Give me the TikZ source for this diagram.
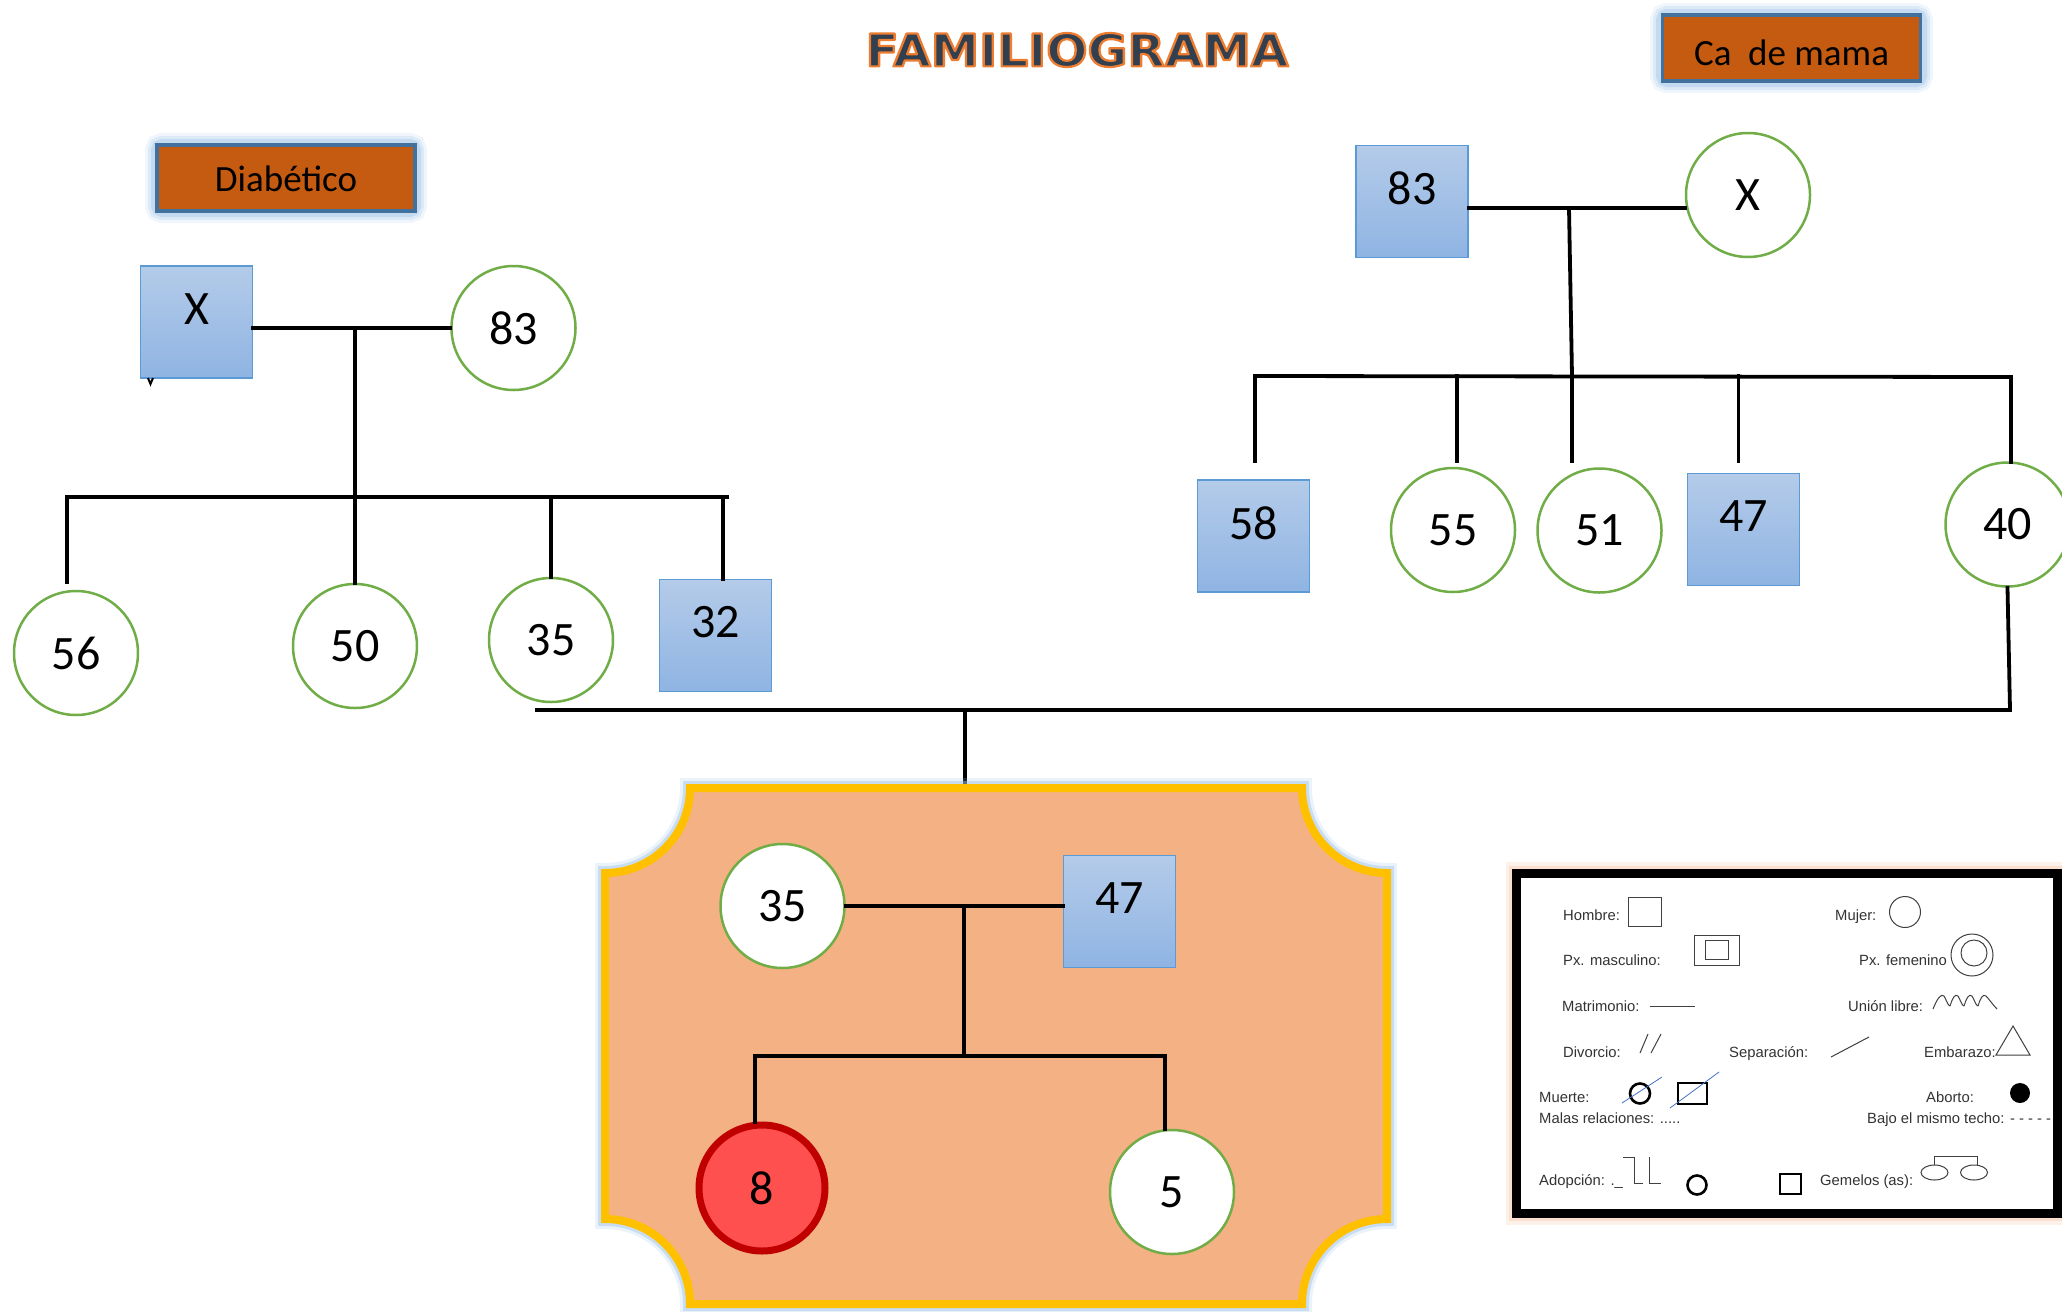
\documentclass[tikz,border=0pt]{standalone}
\usepackage{fontspec}
\setmainfont{Carlito}
\newfontfamily\arialf{Liberation Sans}
\newfontfamily\titlef{DejaVu Sans}
\definecolor{pgreen}{HTML}{70AD47}
\definecolor{sqtop}{HTML}{B4CBE9}
\definecolor{sqbot}{HTML}{8FB4E3}
\definecolor{sqborder}{HTML}{5B9BD5}
\definecolor{tagfill}{HTML}{C55A11}
\definecolor{tagborder}{HTML}{41719C}
\definecolor{glowblue}{HTML}{9DC3E6}
\definecolor{navyT}{HTML}{323F4F}
\definecolor{orangeT}{HTML}{ED7D31}
\definecolor{peach}{HTML}{F4B183}
\definecolor{goldB}{HTML}{FFC000}
\definecolor{redfill}{HTML}{FF5050}
\definecolor{redborder}{HTML}{C00000}
\definecolor{slashblue}{HTML}{4472C4}
\definecolor{glowor}{HTML}{F8CBAD}
\newcommand{\plaquepath}{(690,788) -- (1302,788) arc[start angle=180,end angle=270,radius=85pt] -- (1387,1219) arc[start angle=90,end angle=180,radius=85pt] -- (690,1304) arc[start angle=0,end angle=90,radius=85pt] -- (605,873) arc[start angle=270,end angle=360,radius=85pt] -- cycle}
\newcommand{\outlinedtitle}[1]{{\color{navyT}\special{pdf:literal direct 0.929 0.490 0.192 RG 2.2 w 1 j 2 Tr}#1\special{pdf:literal direct 0 Tr}}}
\begin{document}
\begin{tikzpicture}[x=1pt,y=-1pt,
  fem/.style={circle, draw=pgreen, line width=2.5pt, fill=white, minimum size=124pt, inner sep=0pt, font=\fontsize{48}{50}\selectfont},
  mal/.style={rectangle, draw=sqborder, line width=1.5pt, top color=sqtop, bottom color=sqbot, minimum size=112pt, inner sep=0pt},
  sqlab/.style={font=\fontsize{48}{50}\selectfont, yshift=13pt, inner sep=0pt},
  ln/.style={line width=3.8pt, black, line cap=rect},
  tagbox/.style={rectangle, fill=tagfill, draw=tagborder, line width=3.5pt, minimum width=258pt, minimum height=66pt, inner sep=0pt, font=\fontsize{37}{40}\selectfont, text depth=0pt},
  titletext/.style={font=\titlef\bfseries\fontsize{45}{50}\selectfont, inner sep=0pt},
  lg/.style={font=\arialf\fontsize{14.8}{16}\selectfont, anchor=base west, inner sep=0pt, text=black!80},
  lgs/.style={line width=1pt, black!75},
  lgk/.style={line width=2.6pt, black}
]
\useasboundingbox (0,0) rectangle (2062,1312);
\clip (0,0) rectangle (2062,1312);

% ---------- title ----------
\node[titletext] (title) at (1077,50) {\scalebox{1.08}[1]{\outlinedtitle{FAMILIOGRAMA}}};

% ---------- tags with glow ----------
\foreach \w/\o in {24/0.15,18/0.25,12/0.4}{
  \draw[glowblue, line width=\w pt, opacity=\o, rounded corners=5pt] (157,145) rectangle (415,211);
  \draw[glowblue, line width=\w pt, opacity=\o, rounded corners=5pt] (1662,15) rectangle (1921,81);
}
\node[tagbox, text height=27.4pt] (diab) at (286,178) {Diabético};
\node[tagbox, text height=34pt] (cama) at (1791.5,48) {Ca\ \ de mama};

% ---------- left family ----------
\node[mal, label={[sqlab]center:X}] (sqXL) at (196.5,322) {};
\draw[line width=2pt] (148,378) -- (150.5,384) -- (153,378);
\node[fem] (c83L) at (513.5,328) {83};
\coordinate (mL) at (355,328);
\coordinate (sibL) at (355,497);
\coordinate (sibLa) at (67,497);
\coordinate (sibLb) at (727,497);
\draw[ln] (sqXL.east |- mL) -- (c83L.west);
\draw[ln] (mL) -- (sibL);
\draw[ln] (sibLa) -- (sibLb);
\node[fem] (c56) at (76,653) {56};
\node[fem] (c50) at (355,646) {50};
\node[fem] (c35L) at (551,640) {35};
\node[mal, label={[sqlab]center:32}] (sq32) at (715.5,635.5) {};
\draw[ln] (sibLa) -- (67,582);
\draw[ln] (sibL) -- (c50.north);
\draw[ln] (551,497) -- (c35L.north);
\draw[ln] (723,497) -- (723,579);

% ---------- right family ----------
\node[mal, label={[sqlab]center:83}] (sq83R) at (1412,201.5) {};
\node[fem] (cXR) at (1748,195) {X};
\coordinate (mR) at (1569,208);
\coordinate (sibRa) at (1255,376);
\coordinate (sibRb) at (2011,377);
\draw[ln] (sq83R.east |- mR) -- (cXR.west |- mR);
\draw[ln] (mR) -- (1572,376);
\draw[ln] (sibRa) -- (sibRb);
\node[mal, label={[sqlab]center:58}] (sq58) at (1253.5,536) {};
\node[fem] (c55) at (1453,530) {55};
\node[fem] (c51) at (1599.5,530.5) {51};
\node[mal, label={[sqlab]center:47}] (sq47R) at (1743.5,529.5) {};
\node[fem] (c40) at (2007.5,524.5) {40};
\draw[ln] (sibRa) -- (1255,461);
\draw[ln] (1457,376) -- (1457,461);
\draw[ln] (1572,376) -- (1572,461);
\draw[ln] (1738.5,376) -- (1738.5,461);
\draw[ln] (sibRb) -- (2011,462);

% ---------- union line ----------
\coordinate (jR) at (2010,710);
\coordinate (jL) at (537,710);
\coordinate (jM) at (965,710);
\draw[ln] (c40.south) -- (jR);
\draw[ln] (jL) -- (jR);
\draw[ln] (jM) -- (965,788);

% ---------- plaque ----------
\draw[glowblue, line width=20pt, opacity=0.2] \plaquepath;
\draw[glowblue, line width=14pt, opacity=0.45] \plaquepath;
\draw[fill=peach, draw=goldB, line width=8pt] \plaquepath;

\node[fem] (c35B) at (782.5,906) {35};
\node[mal, label={[sqlab]center:47}] (sq47B) at (1119.5,911.5) {};
\coordinate (mB) at (964,906);
\coordinate (sibBa) at (755,1056);
\coordinate (sibBb) at (1165,1056);
\draw[ln] (c35B.east) -- (sq47B.west |- c35B.east);
\draw[ln] (mB) -- (964,1056);
\draw[ln] (sibBa) -- (sibBb);
\node[circle, fill=redfill, draw=redborder, line width=7pt, minimum size=126pt, inner sep=0pt, font=\fontsize{48}{50}\selectfont] (c8) at (762,1188) {8};
\node[fem] (c5) at (1172,1192) {5};
\draw[ln] (sibBa) -- (755,1122);
\draw[ln] (sibBb) -- (1165,1129);

% ---------- legend ----------
\draw[glowor, line width=22pt, opacity=0.25] (1516.5,873) rectangle (2057,1213.5);
\draw[glowor, line width=15pt, opacity=0.45] (1516.5,873) rectangle (2057,1213.5);
\draw[line width=9pt, fill=white] (1516.5,873) rectangle (2057,1213.5);

\node[lg] (lh) at (1563,920) {Hombre:};
\draw[lgs] (1628,897) rectangle (1661,926);
\node[lg] (lm) at (1835,920) {Mujer:};
\draw[lgs] (1905,912) circle[radius=15.5pt];

\node[lg] (lpm) at (1563,965) {Px. masculino:};
\draw[lgs] (1694,935) rectangle (1739,965);
\draw[lgs] (1705,940) rectangle (1728,959);
\node[lg] (lpf) at (1859,965) {Px. femenino};
\draw[lgs] (1972,955) circle[radius=21pt];
\draw[lgs] (1974,953) circle[radius=13pt];

\node[lg] (lmat) at (1562,1011) {Matrimonio:};
\draw[lgs] (1650,1006) -- (1695,1006);
\node[lg] (lul) at (1848,1011) {Unión libre:};
\draw[lgs, line join=round] (1933,1009) .. controls (1937,999) and (1941,993) .. (1944,996) .. controls (1946,999) and (1948,1006) .. (1950,1006)
  .. controls (1952,999) and (1955,993) .. (1958,996) .. controls (1960,999) and (1962,1006) .. (1964,1006)
  .. controls (1966,999) and (1969,993) .. (1972,996) .. controls (1974,999) and (1976,1006) .. (1978,1006)
  .. controls (1980,999) and (1983,993) .. (1986,996) .. controls (1989,999) and (1993,1005) .. (1997,1009);

\node[lg] (ldiv) at (1563,1057) {Divorcio:};
\draw[lgs] (1640,1053) -- (1648,1034);
\draw[lgs] (1651,1053) -- (1661,1034);
\node[lg] (lsep) at (1729,1057) {Separación:};
\draw[lgs] (1831,1057) -- (1869,1037);
\node[lg] (lemb) at (1924,1057) {Embarazo:};
\draw[lgs] (1996,1055) -- (2030,1055) -- (2013,1026) -- cycle;

\node[lg] (lmue) at (1539,1102) {Muerte:};
\draw[lgk] (1640,1093.5) circle[radius=10pt];
\draw[slashblue, line width=0.8pt] (1622,1103) -- (1662,1077);
\draw[lgk] (1678,1083) rectangle (1707,1104);
\draw[slashblue, line width=0.8pt] (1670,1108) -- (1719,1072);
\node[lg] (labo) at (1926,1102) {Aborto:};
\fill[black] (2020,1093) circle[radius=10pt];

\node[lg] (lmal) at (1539,1123) {Malas relaciones: .....};
\node[lg] (lbajo) at (1867,1123) {Bajo el mismo techo: - - - - -};

\node[lg] (lado) at (1539,1185) {Adopción: .\_};
\draw[lgs] (1623,1157) -- (1634,1157) -- (1634,1183) -- (1643,1183);
\draw[lgs] (1649,1157) -- (1649,1183) -- (1661,1183);
\draw[lgk] (1697,1185) circle[radius=9.5pt];
\draw[lgk] (1780,1174) rectangle (1801,1194);
\node[lg] (lgem) at (1820,1185) {Gemelos (as):};
\draw[lgs] (1934.5,1172.5) ellipse[x radius=13.5pt, y radius=7.5pt];
\draw[lgs] (1974,1172.5) ellipse[x radius=13.5pt, y radius=7.5pt];
\draw[lgs] (1934,1165) -- (1934,1156) -- (1977,1156) -- (1977,1165);
\end{tikzpicture}
\end{document}
